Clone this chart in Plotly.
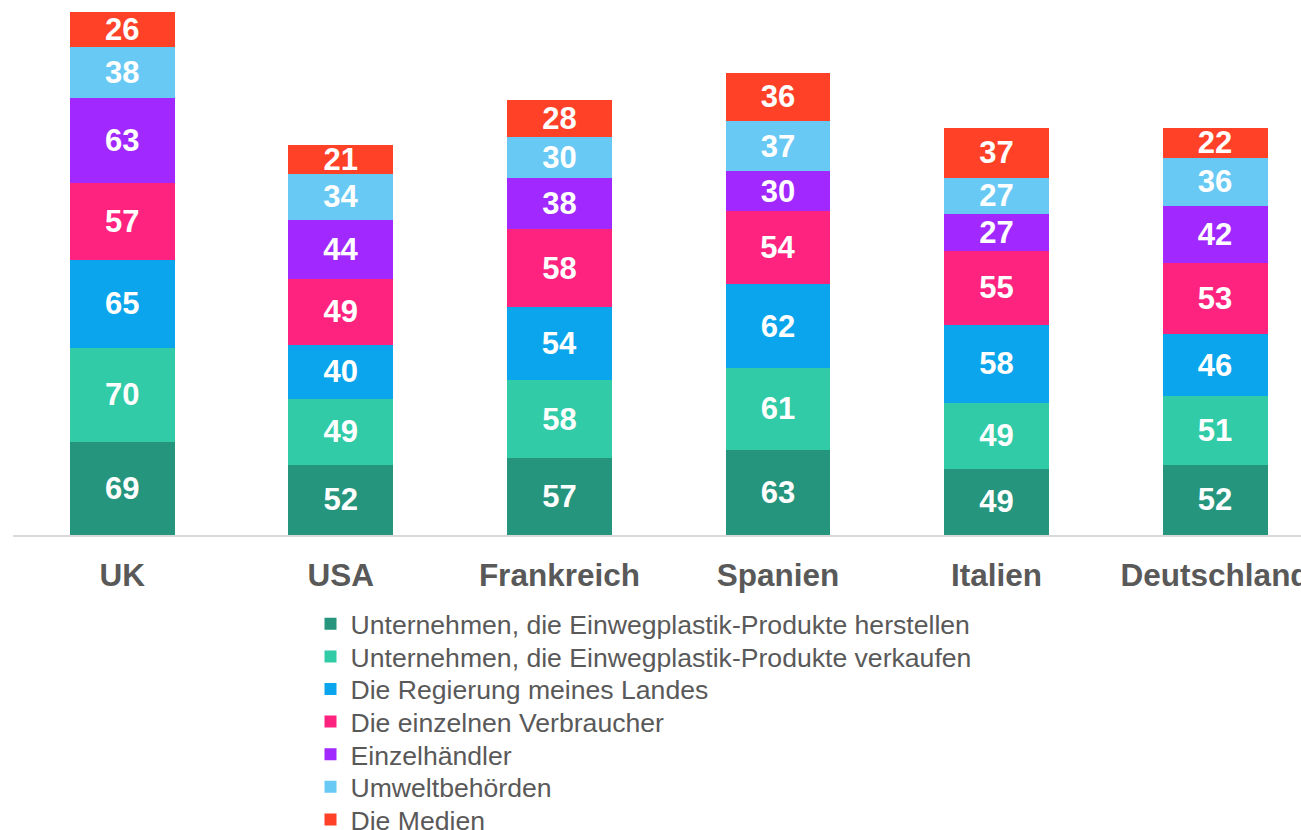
import plotly.graph_objects as go

countries = ["UK", "USA", "Frankreich", "Spanien", "Italien", "Deutschland"]

series_names = [
    "Unternehmen, die Einwegplastik-Produkte herstellen",
    "Unternehmen, die Einwegplastik-Produkte verkaufen",
    "Die Regierung meines Landes",
    "Die einzelnen Verbraucher",
    "Einzelhändler",
    "Umweltbehörden",
    "Die Medien",
]

herstellen = [69, 52, 57, 63, 49, 52]
verkaufen = [70, 49, 58, 61, 49, 51]
regierung = [65, 40, 54, 62, 58, 46]
verbraucher = [57, 49, 58, 54, 55, 53]
einzelhaendler = [63, 44, 38, 30, 27, 42]
umweltbehoerden = [38, 34, 30, 37, 27, 36]
medien = [26, 21, 28, 36, 37, 22]

series_values = [herstellen, verkaufen, regierung, verbraucher,
                 einzelhaendler, umweltbehoerden, medien]

colors = ["#25957D", "#31CBA7", "#0AA5EC", "#FF2380", "#A128FF", "#69C9F5", "#FF4128"]

FONT = "Liberation Sans, Arial, sans-serif"

# layout geometry (pixels)
W, H = 1301, 830
ML, MT, MB = 13, 12, 295
plot_h = H - MT - MB
legend_left_px = 310.5
legend_first_center_px = 624
legend_step_px = 32.6

fig = go.Figure()
legend_cfg = {}
for i, (name, vals, col) in enumerate(zip(series_names, series_values, colors)):
    lg = "legend" if i == 0 else f"legend{i + 1}"
    fig.add_trace(go.Bar(
        x=countries, y=vals, name=name, legend=lg,
        marker=dict(color=col, line=dict(width=0)),
        text=vals, textposition="inside", insidetextanchor="middle",
        textangle=0, constraintext="none",
        textfont=dict(family=FONT, size=31, color="white", weight="bold"),
        hoverinfo="skip",
    ))
    center_px = legend_first_center_px + i * legend_step_px
    legend_cfg[lg] = dict(
        orientation="v",
        x=(legend_left_px - ML) / (W - ML), xanchor="left",
        y=-(center_px - (H - MB)) / plot_h, yanchor="middle",
        font=dict(family=FONT, size=26.6, color="#595959"),
        bgcolor="rgba(0,0,0,0)", borderwidth=0,
    )

fig.update_layout(
    width=W, height=H,
    barmode="stack", bargap=0.52,
    margin=dict(l=ML, r=0, t=MT, b=MB, autoexpand=False),
    paper_bgcolor="white", plot_bgcolor="white",
    showlegend=True,
    xaxis=dict(
        range=[-0.5, 5.393], showgrid=False, zeroline=False,
        showline=True, linecolor="#D9D9D9", linewidth=2,
        ticks="", ticklabelstandoff=11,
        tickfont=dict(family=FONT, size=31.5, color="#595959", weight="bold"),
    ),
    yaxis=dict(range=[0, 388], visible=False, showgrid=False, zeroline=False),
    **legend_cfg,
)

fig.write_html(
    "out.html",
    config={"displayModeBar": False},
    post_script="document.body.style.margin='0';document.body.style.overflow='hidden';",
)
